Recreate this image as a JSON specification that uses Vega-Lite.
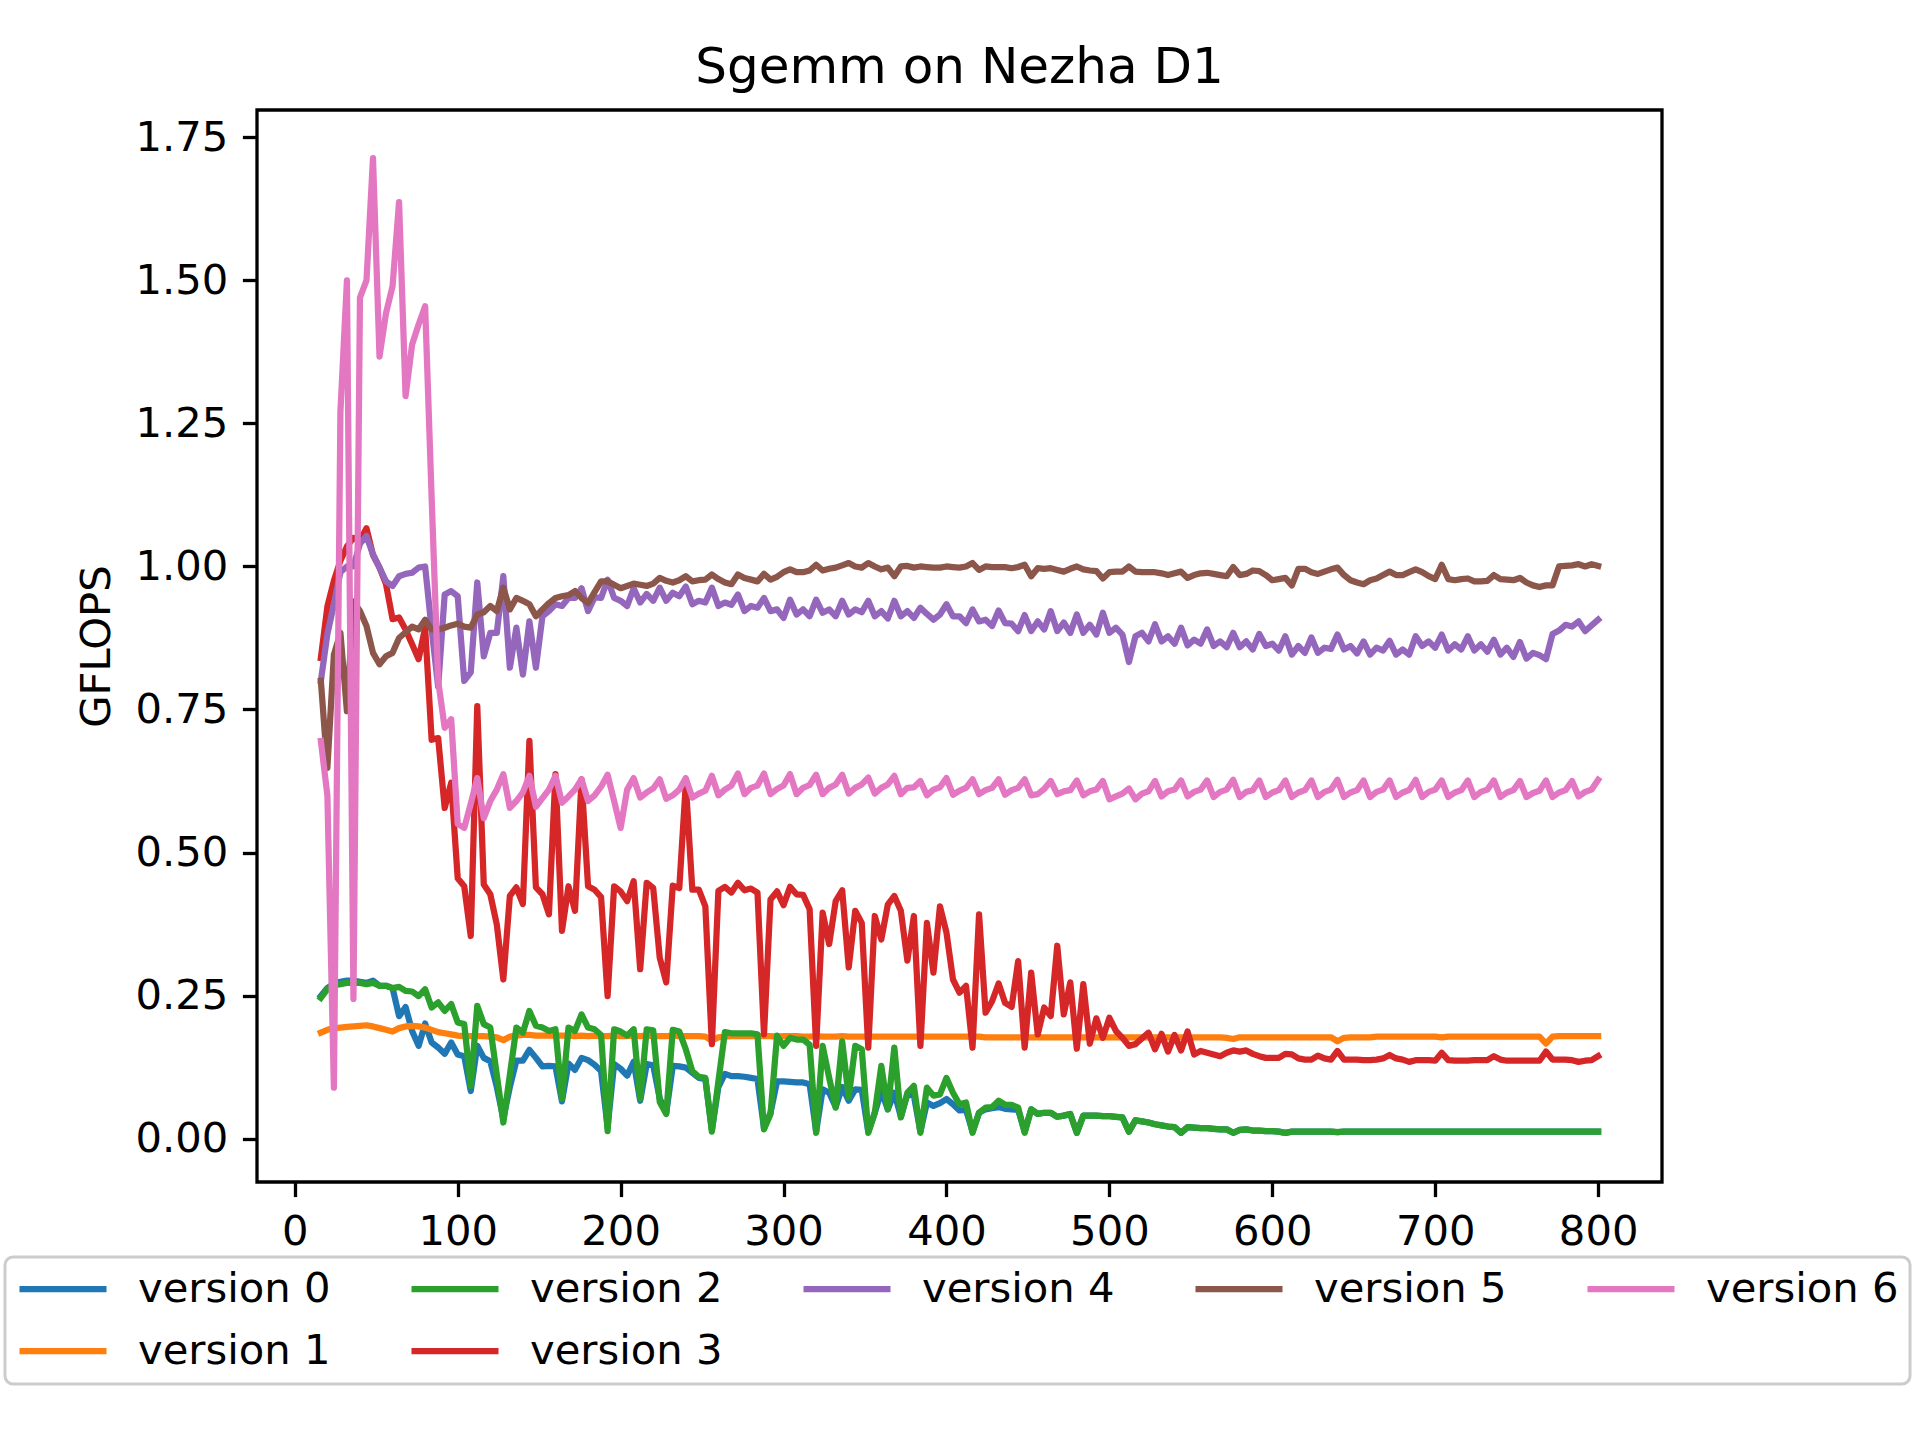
{
"$schema": "https://vega.github.io/schema/vega-lite/v6.json",
"width": 1405, "height": 1072,
"autosize": {"type": "none"},
"padding": {"left": 257, "top": 110, "right": 258, "bottom": 258},
"background": "white",
"config": {
  "font": "DejaVu Sans",
  "view": {"stroke": "black", "strokeWidth": 3.3},
  "legend": {"strokeWidth": 3},
  "axis": {"domain": false, "grid": false, "ticks": true, "tickColor": "black", "tickWidth": 3.3, "tickSize": 14.6,
    "labelFont": "DejaVu Sans", "labelFontSize": 41.7, "labelColor": "black", "labelPadding": 14.6,
    "titleFont": "DejaVu Sans", "titleFontSize": 41.7, "titleFontWeight": "normal", "titleColor": "black",
    "labelFlush": false, "labelOverlap": false}
},
"title": {"text": "Sgemm on Nezha D1", "fontSize": 50, "fontWeight": "normal", "color": "black", "font": "DejaVu Sans", "anchor": "middle", "baseline": "alphabetic", "offset": -23},
"data": {"values": [
{"x":16,"v0":0.249,"v1":0.185,"v2":0.246,"v3":0.84,"v4":0.80,"v5":0.80,"v6":0.695},
{"x":20,"v0":0.263,"v1":0.19,"v2":0.261,"v3":0.93,"v4":0.882,"v5":0.648,"v6":0.60},
{"x":24,"v0":0.271,"v1":0.193,"v2":0.268,"v3":0.975,"v4":0.934,"v5":0.846,"v6":0.089},
{"x":28,"v0":0.274,"v1":0.194,"v2":0.27,"v3":1.01,"v4":0.99,"v5":0.884,"v6":1.27},
{"x":32,"v0":0.276,"v1":0.195,"v2":0.272,"v3":1.035,"v4":1.0,"v5":0.747,"v6":1.50},
{"x":36,"v0":0.276,"v1":0.196,"v2":0.272,"v3":1.05,"v4":1.0,"v5":0.939,"v6":0.244},
{"x":40,"v0":0.274,"v1":0.197,"v2":0.272,"v3":1.045,"v4":1.04,"v5":0.922,"v6":1.47},
{"x":44,"v0":0.272,"v1":0.198,"v2":0.27,"v3":1.067,"v4":1.053,"v5":0.896,"v6":1.50},
{"x":48,"v0":0.276,"v1":0.196,"v2":0.272,"v3":1.02,"v4":1.021,"v5":0.849,"v6":1.714},
{"x":52,"v0":0.267,"v1":0.193,"v2":0.267,"v3":0.998,"v4":0.998,"v5":0.829,"v6":1.367},
{"x":56,"v0":0.267,"v1":0.19,"v2":0.267,"v3":0.969,"v4":0.974,"v5":0.843,"v6":1.443},
{"x":60,"v0":0.263,"v1":0.187,"v2":0.263,"v3":0.908,"v4":0.966,"v5":0.849,"v6":1.49},
{"x":64,"v0":0.214,"v1":0.193,"v2":0.265,"v3":0.911,"v4":0.983,"v5":0.875,"v6":1.637},
{"x":68,"v0":0.23,"v1":0.196,"v2":0.258,"v3":0.89,"v4":0.987,"v5":0.885,"v6":1.298},
{"x":72,"v0":0.188,"v1":0.197,"v2":0.257,"v3":0.864,"v4":0.989,"v5":0.895,"v6":1.388},
{"x":76,"v0":0.162,"v1":0.196,"v2":0.249,"v3":0.838,"v4":0.998,"v5":0.89,"v6":1.423},
{"x":80,"v0":0.201,"v1":0.194,"v2":0.261,"v3":0.893,"v4":1.0,"v5":0.907,"v6":1.455},
{"x":84,"v0":0.168,"v1":0.19,"v2":0.229,"v3":0.697,"v4":0.89,"v5":0.89,"v6":1.12},
{"x":88,"v0":0.159,"v1":0.186,"v2":0.238,"v3":0.70,"v4":0.79,"v5":0.89,"v6":0.80},
{"x":92,"v0":0.148,"v1":0.184,"v2":0.223,"v3":0.578,"v4":0.951,"v5":0.893,"v6":0.718},
{"x":96,"v0":0.168,"v1":0.182,"v2":0.235,"v3":0.622,"v4":0.957,"v5":0.897,"v6":0.733},
{"x":100,"v0":0.147,"v1":0.18,"v2":0.203,"v3":0.455,"v4":0.948,"v5":0.90,"v6":0.55},
{"x":104,"v0":0.144,"v1":0.179,"v2":0.2,"v3":0.441,"v4":0.80,"v5":0.895,"v6":0.543},
{"x":108,"v0":0.083,"v1":0.179,"v2":0.092,"v3":0.354,"v4":0.815,"v5":0.893,"v6":0.585},
{"x":112,"v0":0.162,"v1":0.179,"v2":0.232,"v3":0.756,"v4":0.972,"v5":0.916,"v6":0.63},
{"x":116,"v0":0.141,"v1":0.179,"v2":0.2,"v3":0.444,"v4":0.843,"v5":0.92,"v6":0.56},
{"x":120,"v0":0.135,"v1":0.178,"v2":0.194,"v3":0.427,"v4":0.884,"v5":0.931,"v6":0.59},
{"x":124,"v0":0.09,"v1":0.177,"v2":0.111,"v3":0.374,"v4":0.884,"v5":0.922,"v6":0.61},
{"x":128,"v0":0.035,"v1":0.172,"v2":0.028,"v3":0.278,"v4":0.983,"v5":0.963,"v6":0.637},
{"x":132,"v0":0.09,"v1":0.178,"v2":0.111,"v3":0.424,"v4":0.823,"v5":0.925,"v6":0.578},
{"x":136,"v0":0.136,"v1":0.18,"v2":0.194,"v3":0.439,"v4":0.893,"v5":0.945,"v6":0.59},
{"x":140,"v0":0.136,"v1":0.181,"v2":0.185,"v3":0.41,"v4":0.811,"v5":0.94,"v6":0.605},
{"x":144,"v0":0.155,"v1":0.181,"v2":0.223,"v3":0.695,"v4":0.904,"v5":0.934,"v6":0.634},
{"x":148,"v0":0.141,"v1":0.18,"v2":0.197,"v3":0.439,"v4":0.823,"v5":0.913,"v6":0.58},
{"x":152,"v0":0.126,"v1":0.18,"v2":0.194,"v3":0.427,"v4":0.913,"v5":0.925,"v6":0.595},
{"x":156,"v0":0.127,"v1":0.18,"v2":0.188,"v3":0.392,"v4":0.922,"v5":0.936,"v6":0.61},
{"x":160,"v0":0.126,"v1":0.18,"v2":0.191,"v3":0.637,"v4":0.934,"v5":0.945,"v6":0.634},
{"x":164,"v0":0.065,"v1":0.18,"v2":0.069,"v3":0.363,"v4":0.931,"v5":0.948,"v6":0.587},
{"x":168,"v0":0.131,"v1":0.18,"v2":0.194,"v3":0.441,"v4":0.945,"v5":0.95,"v6":0.598},
{"x":172,"v0":0.12,"v1":0.179,"v2":0.188,"v3":0.398,"v4":0.945,"v5":0.957,"v6":0.61},
{"x":176,"v0":0.141,"v1":0.18,"v2":0.217,"v3":0.628,"v4":0.962,"v5":0.945,"v6":0.628},
{"x":180,"v0":0.137,"v1":0.179,"v2":0.194,"v3":0.441,"v4":0.922,"v5":0.936,"v6":0.59},
{"x":184,"v0":0.129,"v1":0.18,"v2":0.191,"v3":0.435,"v4":0.946,"v5":0.955,"v6":0.60},
{"x":188,"v0":0.118,"v1":0.179,"v2":0.181,"v3":0.422,"v4":0.945,"v5":0.974,"v6":0.615},
{"x":192,"v0":0.02,"v1":0.179,"v2":0.013,"v3":0.249,"v4":0.977,"v5":0.974,"v6":0.636},
{"x":196,"v0":0.13,"v1":0.18,"v2":0.191,"v3":0.441,"v4":0.945,"v5":0.968,"v6":0.59},
{"x":200,"v0":0.122,"v1":0.179,"v2":0.187,"v3":0.432,"v4":0.94,"v5":0.962,"v6":0.543},
{"x":204,"v0":0.11,"v1":0.179,"v2":0.18,"v3":0.415,"v4":0.931,"v5":0.966,"v6":0.61},
{"x":208,"v0":0.134,"v1":0.18,"v2":0.191,"v3":0.45,"v4":0.962,"v5":0.97,"v6":0.63},
{"x":212,"v0":0.066,"v1":0.179,"v2":0.069,"v3":0.296,"v4":0.937,"v5":0.968,"v6":0.596},
{"x":216,"v0":0.13,"v1":0.18,"v2":0.191,"v3":0.447,"v4":0.952,"v5":0.966,"v6":0.605},
{"x":220,"v0":0.128,"v1":0.179,"v2":0.189,"v3":0.438,"v4":0.94,"v5":0.97,"v6":0.612},
{"x":224,"v0":0.07,"v1":0.179,"v2":0.064,"v3":0.316,"v4":0.963,"v5":0.98,"v6":0.628},
{"x":228,"v0":0.045,"v1":0.179,"v2":0.043,"v3":0.273,"v4":0.94,"v5":0.975,"v6":0.594},
{"x":232,"v0":0.127,"v1":0.18,"v2":0.19,"v3":0.442,"v4":0.954,"v5":0.972,"v6":0.60},
{"x":236,"v0":0.126,"v1":0.179,"v2":0.187,"v3":0.438,"v4":0.948,"v5":0.976,"v6":0.61},
{"x":240,"v0":0.124,"v1":0.179,"v2":0.156,"v3":0.62,"v4":0.965,"v5":0.983,"v6":0.63},
{"x":244,"v0":0.115,"v1":0.179,"v2":0.118,"v3":0.435,"v4":0.934,"v5":0.974,"v6":0.596},
{"x":248,"v0":0.106,"v1":0.179,"v2":0.108,"v3":0.435,"v4":0.94,"v5":0.976,"v6":0.603},
{"x":252,"v0":0.104,"v1":0.178,"v2":0.106,"v3":0.406,"v4":0.937,"v5":0.977,"v6":0.608},
{"x":256,"v0":0.015,"v1":0.171,"v2":0.012,"v3":0.165,"v4":0.963,"v5":0.986,"v6":0.634},
{"x":260,"v0":0.09,"v1":0.177,"v2":0.1,"v3":0.433,"v4":0.931,"v5":0.978,"v6":0.60},
{"x":264,"v0":0.113,"v1":0.178,"v2":0.186,"v3":0.44,"v4":0.937,"v5":0.972,"v6":0.61},
{"x":268,"v0":0.109,"v1":0.179,"v2":0.184,"v3":0.43,"v4":0.933,"v5":0.969,"v6":0.617},
{"x":272,"v0":0.109,"v1":0.179,"v2":0.184,"v3":0.447,"v4":0.951,"v5":0.986,"v6":0.638},
{"x":276,"v0":0.108,"v1":0.179,"v2":0.184,"v3":0.434,"v4":0.922,"v5":0.98,"v6":0.602},
{"x":280,"v0":0.106,"v1":0.179,"v2":0.184,"v3":0.437,"v4":0.931,"v5":0.977,"v6":0.613},
{"x":284,"v0":0.104,"v1":0.179,"v2":0.182,"v3":0.43,"v4":0.928,"v5":0.974,"v6":0.617},
{"x":288,"v0":0.018,"v1":0.179,"v2":0.016,"v3":0.182,"v4":0.945,"v5":0.987,"v6":0.638},
{"x":292,"v0":0.045,"v1":0.179,"v2":0.043,"v3":0.418,"v4":0.922,"v5":0.977,"v6":0.602},
{"x":296,"v0":0.1,"v1":0.178,"v2":0.18,"v3":0.432,"v4":0.925,"v5":0.982,"v6":0.611},
{"x":300,"v0":0.1,"v1":0.179,"v2":0.162,"v3":0.408,"v4":0.91,"v5":0.99,"v6":0.617},
{"x":304,"v0":0.099,"v1":0.179,"v2":0.176,"v3":0.44,"v4":0.942,"v5":0.995,"v6":0.637},
{"x":308,"v0":0.098,"v1":0.179,"v2":0.173,"v3":0.427,"v4":0.916,"v5":0.99,"v6":0.602},
{"x":312,"v0":0.098,"v1":0.178,"v2":0.173,"v3":0.426,"v4":0.925,"v5":0.99,"v6":0.613},
{"x":316,"v0":0.095,"v1":0.178,"v2":0.164,"v3":0.401,"v4":0.913,"v5":0.993,"v6":0.618},
{"x":320,"v0":0.012,"v1":0.179,"v2":0.01,"v3":0.162,"v4":0.942,"v5":1.003,"v6":0.636},
{"x":324,"v0":0.086,"v1":0.178,"v2":0.162,"v3":0.395,"v4":0.919,"v5":0.993,"v6":0.602},
{"x":328,"v0":0.08,"v1":0.178,"v2":0.106,"v3":0.34,"v4":0.925,"v5":0.996,"v6":0.613},
{"x":332,"v0":0.055,"v1":0.178,"v2":0.054,"v3":0.415,"v4":0.913,"v5":0.998,"v6":0.619},
{"x":336,"v0":0.09,"v1":0.179,"v2":0.17,"v3":0.434,"v4":0.94,"v5":1.002,"v6":0.636},
{"x":340,"v0":0.066,"v1":0.178,"v2":0.072,"v3":0.299,"v4":0.916,"v5":1.006,"v6":0.603},
{"x":344,"v0":0.086,"v1":0.178,"v2":0.162,"v3":0.398,"v4":0.925,"v5":1.0,"v6":0.613},
{"x":348,"v0":0.085,"v1":0.178,"v2":0.156,"v3":0.377,"v4":0.92,"v5":0.998,"v6":0.619},
{"x":352,"v0":0.012,"v1":0.178,"v2":0.01,"v3":0.159,"v4":0.94,"v5":1.006,"v6":0.631},
{"x":356,"v0":0.045,"v1":0.178,"v2":0.045,"v3":0.389,"v4":0.913,"v5":1.0,"v6":0.603},
{"x":360,"v0":0.083,"v1":0.178,"v2":0.127,"v3":0.348,"v4":0.922,"v5":0.995,"v6":0.613},
{"x":364,"v0":0.051,"v1":0.178,"v2":0.051,"v3":0.409,"v4":0.909,"v5":0.998,"v6":0.619},
{"x":368,"v0":0.08,"v1":0.178,"v2":0.159,"v3":0.424,"v4":0.94,"v5":0.983,"v6":0.634},
{"x":372,"v0":0.038,"v1":0.178,"v2":0.037,"v3":0.398,"v4":0.913,"v5":1.0,"v6":0.602},
{"x":376,"v0":0.077,"v1":0.178,"v2":0.08,"v3":0.311,"v4":0.922,"v5":1.001,"v6":0.613},
{"x":380,"v0":0.075,"v1":0.178,"v2":0.092,"v3":0.389,"v4":0.91,"v5":0.998,"v6":0.614},
{"x":384,"v0":0.012,"v1":0.178,"v2":0.01,"v3":0.162,"v4":0.928,"v5":1.0,"v6":0.625},
{"x":388,"v0":0.063,"v1":0.178,"v2":0.089,"v3":0.377,"v4":0.917,"v5":0.999,"v6":0.60},
{"x":392,"v0":0.057,"v1":0.178,"v2":0.075,"v3":0.29,"v4":0.907,"v5":0.998,"v6":0.61},
{"x":396,"v0":0.062,"v1":0.178,"v2":0.077,"v3":0.406,"v4":0.916,"v5":0.998,"v6":0.614},
{"x":400,"v0":0.069,"v1":0.178,"v2":0.106,"v3":0.36,"v4":0.934,"v5":1.0,"v6":0.63},
{"x":404,"v0":0.06,"v1":0.178,"v2":0.08,"v3":0.278,"v4":0.913,"v5":0.999,"v6":0.601},
{"x":408,"v0":0.049,"v1":0.178,"v2":0.06,"v3":0.255,"v4":0.913,"v5":0.998,"v6":0.608},
{"x":412,"v0":0.05,"v1":0.178,"v2":0.063,"v3":0.267,"v4":0.901,"v5":1.0,"v6":0.613},
{"x":416,"v0":0.012,"v1":0.178,"v2":0.01,"v3":0.159,"v4":0.925,"v5":1.006,"v6":0.628},
{"x":420,"v0":0.045,"v1":0.178,"v2":0.045,"v3":0.392,"v4":0.904,"v5":0.994,"v6":0.602},
{"x":424,"v0":0.051,"v1":0.177,"v2":0.054,"v3":0.22,"v4":0.907,"v5":1.0,"v6":0.609},
{"x":428,"v0":0.053,"v1":0.177,"v2":0.055,"v3":0.24,"v4":0.896,"v5":0.999,"v6":0.613},
{"x":432,"v0":0.055,"v1":0.177,"v2":0.066,"v3":0.271,"v4":0.923,"v5":0.999,"v6":0.628},
{"x":436,"v0":0.052,"v1":0.177,"v2":0.059,"v3":0.237,"v4":0.901,"v5":0.999,"v6":0.601},
{"x":440,"v0":0.051,"v1":0.177,"v2":0.059,"v3":0.23,"v4":0.9,"v5":0.997,"v6":0.609},
{"x":444,"v0":0.05,"v1":0.177,"v2":0.054,"v3":0.31,"v4":0.887,"v5":0.999,"v6":0.613},
{"x":448,"v0":0.012,"v1":0.177,"v2":0.01,"v3":0.159,"v4":0.915,"v5":1.003,"v6":0.628},
{"x":452,"v0":0.051,"v1":0.177,"v2":0.051,"v3":0.29,"v4":0.887,"v5":0.983,"v6":0.60},
{"x":456,"v0":0.043,"v1":0.177,"v2":0.043,"v3":0.182,"v4":0.904,"v5":0.997,"v6":0.602},
{"x":460,"v0":0.045,"v1":0.177,"v2":0.045,"v3":0.229,"v4":0.89,"v5":0.996,"v6":0.611},
{"x":464,"v0":0.045,"v1":0.177,"v2":0.045,"v3":0.214,"v4":0.922,"v5":0.997,"v6":0.625},
{"x":468,"v0":0.038,"v1":0.177,"v2":0.038,"v3":0.337,"v4":0.887,"v5":0.994,"v6":0.602},
{"x":472,"v0":0.04,"v1":0.177,"v2":0.04,"v3":0.217,"v4":0.902,"v5":0.991,"v6":0.607},
{"x":476,"v0":0.043,"v1":0.177,"v2":0.043,"v3":0.273,"v4":0.884,"v5":0.996,"v6":0.609},
{"x":480,"v0":0.01,"v1":0.177,"v2":0.01,"v3":0.157,"v4":0.916,"v5":1.0,"v6":0.626},
{"x":484,"v0":0.04,"v1":0.177,"v2":0.04,"v3":0.27,"v4":0.884,"v5":0.995,"v6":0.60},
{"x":488,"v0":0.04,"v1":0.177,"v2":0.04,"v3":0.166,"v4":0.898,"v5":0.993,"v6":0.607},
{"x":492,"v0":0.04,"v1":0.177,"v2":0.04,"v3":0.21,"v4":0.881,"v5":0.992,"v6":0.61},
{"x":496,"v0":0.039,"v1":0.177,"v2":0.039,"v3":0.176,"v4":0.919,"v5":0.979,"v6":0.625},
{"x":500,"v0":0.039,"v1":0.177,"v2":0.039,"v3":0.211,"v4":0.884,"v5":0.99,"v6":0.593},
{"x":504,"v0":0.038,"v1":0.177,"v2":0.038,"v3":0.188,"v4":0.893,"v5":0.991,"v6":0.598},
{"x":508,"v0":0.037,"v1":0.177,"v2":0.037,"v3":0.176,"v4":0.881,"v5":0.991,"v6":0.603},
{"x":512,"v0":0.012,"v1":0.177,"v2":0.012,"v3":0.162,"v4":0.833,"v5":1.0,"v6":0.612},
{"x":516,"v0":0.032,"v1":0.177,"v2":0.032,"v3":0.165,"v4":0.878,"v5":0.991,"v6":0.593},
{"x":520,"v0":0.03,"v1":0.177,"v2":0.03,"v3":0.175,"v4":0.884,"v5":0.99,"v6":0.603},
{"x":524,"v0":0.028,"v1":0.177,"v2":0.028,"v3":0.185,"v4":0.869,"v5":0.99,"v6":0.607},
{"x":528,"v0":0.025,"v1":0.177,"v2":0.025,"v3":0.156,"v4":0.899,"v5":0.99,"v6":0.625},
{"x":532,"v0":0.023,"v1":0.177,"v2":0.023,"v3":0.183,"v4":0.869,"v5":0.988,"v6":0.598},
{"x":536,"v0":0.021,"v1":0.177,"v2":0.021,"v3":0.152,"v4":0.878,"v5":0.985,"v6":0.607},
{"x":540,"v0":0.02,"v1":0.177,"v2":0.02,"v3":0.181,"v4":0.865,"v5":0.988,"v6":0.61},
{"x":544,"v0":0.01,"v1":0.177,"v2":0.01,"v3":0.154,"v4":0.893,"v5":0.991,"v6":0.626},
{"x":548,"v0":0.02,"v1":0.177,"v2":0.02,"v3":0.187,"v4":0.862,"v5":0.98,"v6":0.598},
{"x":552,"v0":0.019,"v1":0.177,"v2":0.019,"v3":0.147,"v4":0.872,"v5":0.985,"v6":0.606},
{"x":556,"v0":0.018,"v1":0.177,"v2":0.018,"v3":0.153,"v4":0.865,"v5":0.988,"v6":0.61},
{"x":560,"v0":0.018,"v1":0.177,"v2":0.018,"v3":0.15,"v4":0.89,"v5":0.989,"v6":0.626},
{"x":564,"v0":0.017,"v1":0.177,"v2":0.017,"v3":0.147,"v4":0.861,"v5":0.987,"v6":0.597},
{"x":568,"v0":0.016,"v1":0.177,"v2":0.016,"v3":0.144,"v4":0.869,"v5":0.985,"v6":0.606},
{"x":572,"v0":0.016,"v1":0.176,"v2":0.016,"v3":0.15,"v4":0.859,"v5":0.983,"v6":0.61},
{"x":576,"v0":0.01,"v1":0.174,"v2":0.01,"v3":0.154,"v4":0.884,"v5":0.999,"v6":0.627},
{"x":580,"v0":0.015,"v1":0.177,"v2":0.015,"v3":0.152,"v4":0.859,"v5":0.985,"v6":0.597},
{"x":584,"v0":0.016,"v1":0.177,"v2":0.016,"v3":0.154,"v4":0.869,"v5":0.987,"v6":0.606},
{"x":588,"v0":0.014,"v1":0.177,"v2":0.014,"v3":0.148,"v4":0.855,"v5":0.993,"v6":0.609},
{"x":592,"v0":0.014,"v1":0.177,"v2":0.014,"v3":0.144,"v4":0.882,"v5":0.992,"v6":0.626},
{"x":596,"v0":0.013,"v1":0.177,"v2":0.013,"v3":0.141,"v4":0.861,"v5":0.985,"v6":0.597},
{"x":600,"v0":0.013,"v1":0.177,"v2":0.013,"v3":0.141,"v4":0.865,"v5":0.976,"v6":0.605},
{"x":604,"v0":0.012,"v1":0.177,"v2":0.012,"v3":0.141,"v4":0.853,"v5":0.978,"v6":0.609},
{"x":608,"v0":0.01,"v1":0.177,"v2":0.01,"v3":0.148,"v4":0.878,"v5":0.98,"v6":0.626},
{"x":612,"v0":0.012,"v1":0.177,"v2":0.012,"v3":0.147,"v4":0.846,"v5":0.967,"v6":0.597},
{"x":616,"v0":0.012,"v1":0.177,"v2":0.012,"v3":0.14,"v4":0.861,"v5":0.996,"v6":0.605},
{"x":620,"v0":0.012,"v1":0.177,"v2":0.012,"v3":0.138,"v4":0.849,"v5":0.996,"v6":0.609},
{"x":624,"v0":0.012,"v1":0.177,"v2":0.012,"v3":0.138,"v4":0.876,"v5":0.99,"v6":0.626},
{"x":628,"v0":0.012,"v1":0.177,"v2":0.012,"v3":0.145,"v4":0.849,"v5":0.987,"v6":0.597},
{"x":632,"v0":0.012,"v1":0.177,"v2":0.012,"v3":0.14,"v4":0.858,"v5":0.991,"v6":0.606},
{"x":636,"v0":0.012,"v1":0.177,"v2":0.012,"v3":0.138,"v4":0.856,"v5":0.995,"v6":0.61},
{"x":640,"v0":0.011,"v1":0.17,"v2":0.011,"v3":0.153,"v4":0.881,"v5":0.998,"v6":0.627},
{"x":644,"v0":0.012,"v1":0.176,"v2":0.012,"v3":0.138,"v4":0.855,"v5":0.985,"v6":0.597},
{"x":648,"v0":0.012,"v1":0.177,"v2":0.012,"v3":0.138,"v4":0.861,"v5":0.976,"v6":0.605},
{"x":652,"v0":0.012,"v1":0.177,"v2":0.012,"v3":0.138,"v4":0.848,"v5":0.972,"v6":0.609},
{"x":656,"v0":0.012,"v1":0.177,"v2":0.012,"v3":0.137,"v4":0.869,"v5":0.969,"v6":0.626},
{"x":660,"v0":0.012,"v1":0.177,"v2":0.012,"v3":0.137,"v4":0.846,"v5":0.976,"v6":0.597},
{"x":664,"v0":0.012,"v1":0.178,"v2":0.012,"v3":0.138,"v4":0.858,"v5":0.979,"v6":0.606},
{"x":668,"v0":0.012,"v1":0.178,"v2":0.012,"v3":0.14,"v4":0.853,"v5":0.985,"v6":0.61},
{"x":672,"v0":0.012,"v1":0.178,"v2":0.012,"v3":0.146,"v4":0.87,"v5":0.991,"v6":0.626},
{"x":676,"v0":0.012,"v1":0.178,"v2":0.012,"v3":0.14,"v4":0.846,"v5":0.985,"v6":0.597},
{"x":680,"v0":0.012,"v1":0.178,"v2":0.012,"v3":0.138,"v4":0.855,"v5":0.985,"v6":0.605},
{"x":684,"v0":0.012,"v1":0.178,"v2":0.012,"v3":0.134,"v4":0.846,"v5":0.99,"v6":0.609},
{"x":688,"v0":0.012,"v1":0.178,"v2":0.012,"v3":0.137,"v4":0.878,"v5":0.995,"v6":0.627},
{"x":692,"v0":0.012,"v1":0.178,"v2":0.012,"v3":0.137,"v4":0.861,"v5":0.99,"v6":0.597},
{"x":696,"v0":0.012,"v1":0.178,"v2":0.012,"v3":0.137,"v4":0.869,"v5":0.983,"v6":0.606},
{"x":700,"v0":0.012,"v1":0.178,"v2":0.012,"v3":0.136,"v4":0.858,"v5":0.978,"v6":0.61},
{"x":704,"v0":0.012,"v1":0.177,"v2":0.012,"v3":0.15,"v4":0.881,"v5":1.003,"v6":0.626},
{"x":708,"v0":0.012,"v1":0.178,"v2":0.012,"v3":0.137,"v4":0.853,"v5":0.978,"v6":0.597},
{"x":712,"v0":0.012,"v1":0.178,"v2":0.012,"v3":0.136,"v4":0.864,"v5":0.976,"v6":0.605},
{"x":716,"v0":0.012,"v1":0.178,"v2":0.012,"v3":0.136,"v4":0.855,"v5":0.978,"v6":0.609},
{"x":720,"v0":0.012,"v1":0.178,"v2":0.012,"v3":0.136,"v4":0.878,"v5":0.979,"v6":0.626},
{"x":724,"v0":0.012,"v1":0.178,"v2":0.012,"v3":0.137,"v4":0.853,"v5":0.974,"v6":0.597},
{"x":728,"v0":0.012,"v1":0.178,"v2":0.012,"v3":0.137,"v4":0.864,"v5":0.974,"v6":0.606},
{"x":732,"v0":0.012,"v1":0.178,"v2":0.012,"v3":0.137,"v4":0.851,"v5":0.975,"v6":0.61},
{"x":736,"v0":0.012,"v1":0.178,"v2":0.012,"v3":0.144,"v4":0.872,"v5":0.985,"v6":0.626},
{"x":740,"v0":0.012,"v1":0.178,"v2":0.012,"v3":0.138,"v4":0.846,"v5":0.978,"v6":0.597},
{"x":744,"v0":0.012,"v1":0.178,"v2":0.012,"v3":0.136,"v4":0.858,"v5":0.977,"v6":0.605},
{"x":748,"v0":0.012,"v1":0.178,"v2":0.012,"v3":0.136,"v4":0.842,"v5":0.976,"v6":0.609},
{"x":752,"v0":0.012,"v1":0.178,"v2":0.012,"v3":0.136,"v4":0.868,"v5":0.98,"v6":0.625},
{"x":756,"v0":0.012,"v1":0.178,"v2":0.012,"v3":0.136,"v4":0.839,"v5":0.972,"v6":0.597},
{"x":760,"v0":0.012,"v1":0.178,"v2":0.012,"v3":0.136,"v4":0.849,"v5":0.967,"v6":0.604},
{"x":764,"v0":0.012,"v1":0.178,"v2":0.012,"v3":0.136,"v4":0.845,"v5":0.964,"v6":0.608},
{"x":768,"v0":0.012,"v1":0.166,"v2":0.012,"v3":0.152,"v4":0.838,"v5":0.967,"v6":0.626},
{"x":772,"v0":0.012,"v1":0.178,"v2":0.012,"v3":0.138,"v4":0.882,"v5":0.967,"v6":0.597},
{"x":776,"v0":0.012,"v1":0.179,"v2":0.012,"v3":0.138,"v4":0.888,"v5":1.0,"v6":0.605},
{"x":780,"v0":0.012,"v1":0.179,"v2":0.012,"v3":0.138,"v4":0.898,"v5":1.001,"v6":0.609},
{"x":784,"v0":0.012,"v1":0.179,"v2":0.012,"v3":0.137,"v4":0.895,"v5":1.002,"v6":0.625},
{"x":788,"v0":0.012,"v1":0.179,"v2":0.012,"v3":0.134,"v4":0.904,"v5":1.004,"v6":0.598},
{"x":792,"v0":0.012,"v1":0.179,"v2":0.012,"v3":0.136,"v4":0.887,"v5":1.0,"v6":0.606},
{"x":796,"v0":0.012,"v1":0.179,"v2":0.012,"v3":0.137,"v4":0.897,"v5":1.004,"v6":0.61},
{"x":800,"v0":0.012,"v1":0.179,"v2":0.012,"v3":0.144,"v4":0.907,"v5":1.001,"v6":0.627}
]},
"transform": [{"fold": ["v0","v1","v2","v3","v4","v5","v6"], "as": ["series","gflops"]}],
"mark": {"type": "line", "strokeWidth": 6.25, "strokeJoin": "round", "strokeCap": "square", "clip": true},
"encoding": {
  "x": {"field": "x", "type": "quantitative",
    "scale": {"domain": [-23.2, 839.2], "nice": false, "zero": false},
    "axis": {"values": [0,100,200,300,400,500,600,700,800], "title": null, "format": "d"}},
  "y": {"field": "gflops", "type": "quantitative",
    "scale": {"domain": [-0.076, 1.798], "nice": false, "zero": false},
    "axis": {"values": [0,0.25,0.5,0.75,1,1.25,1.5,1.75], "format": ".2f", "title": "GFLOPS", "titlePadding": 16.7}},
  "color": {"field": "series", "type": "nominal",
    "scale": {"domain": ["v0","v2","v4","v5","v6","v1","v3"], "range": ["#1f77b4","#2ca02c","#9467bd","#8c564b","#e377c2","#ff7f0e","#d62728"]},
    "legend": {"title": null, "orient": "none", "legendX": -252, "legendY": 1147, "direction": "horizontal", "columns": 5,
      "symbolType": "stroke", "symbolSize": 7569, "symbolStrokeWidth": 6.25, "clipHeight": 42,
      "labelFont": "DejaVu Sans", "labelFontSize": 41.7, "labelColor": "black", "labelOffset": 28, "labelLimit": 0, "labelBaseline": "middle",
      "columnPadding": 77, "rowPadding": 19, "padding": 11,
      "strokeColor": "#cccccc", "cornerRadius": 8, "fillColor": "white",
      "labelExpr": "'version ' + slice(datum.label, 1)"}}
}
}
